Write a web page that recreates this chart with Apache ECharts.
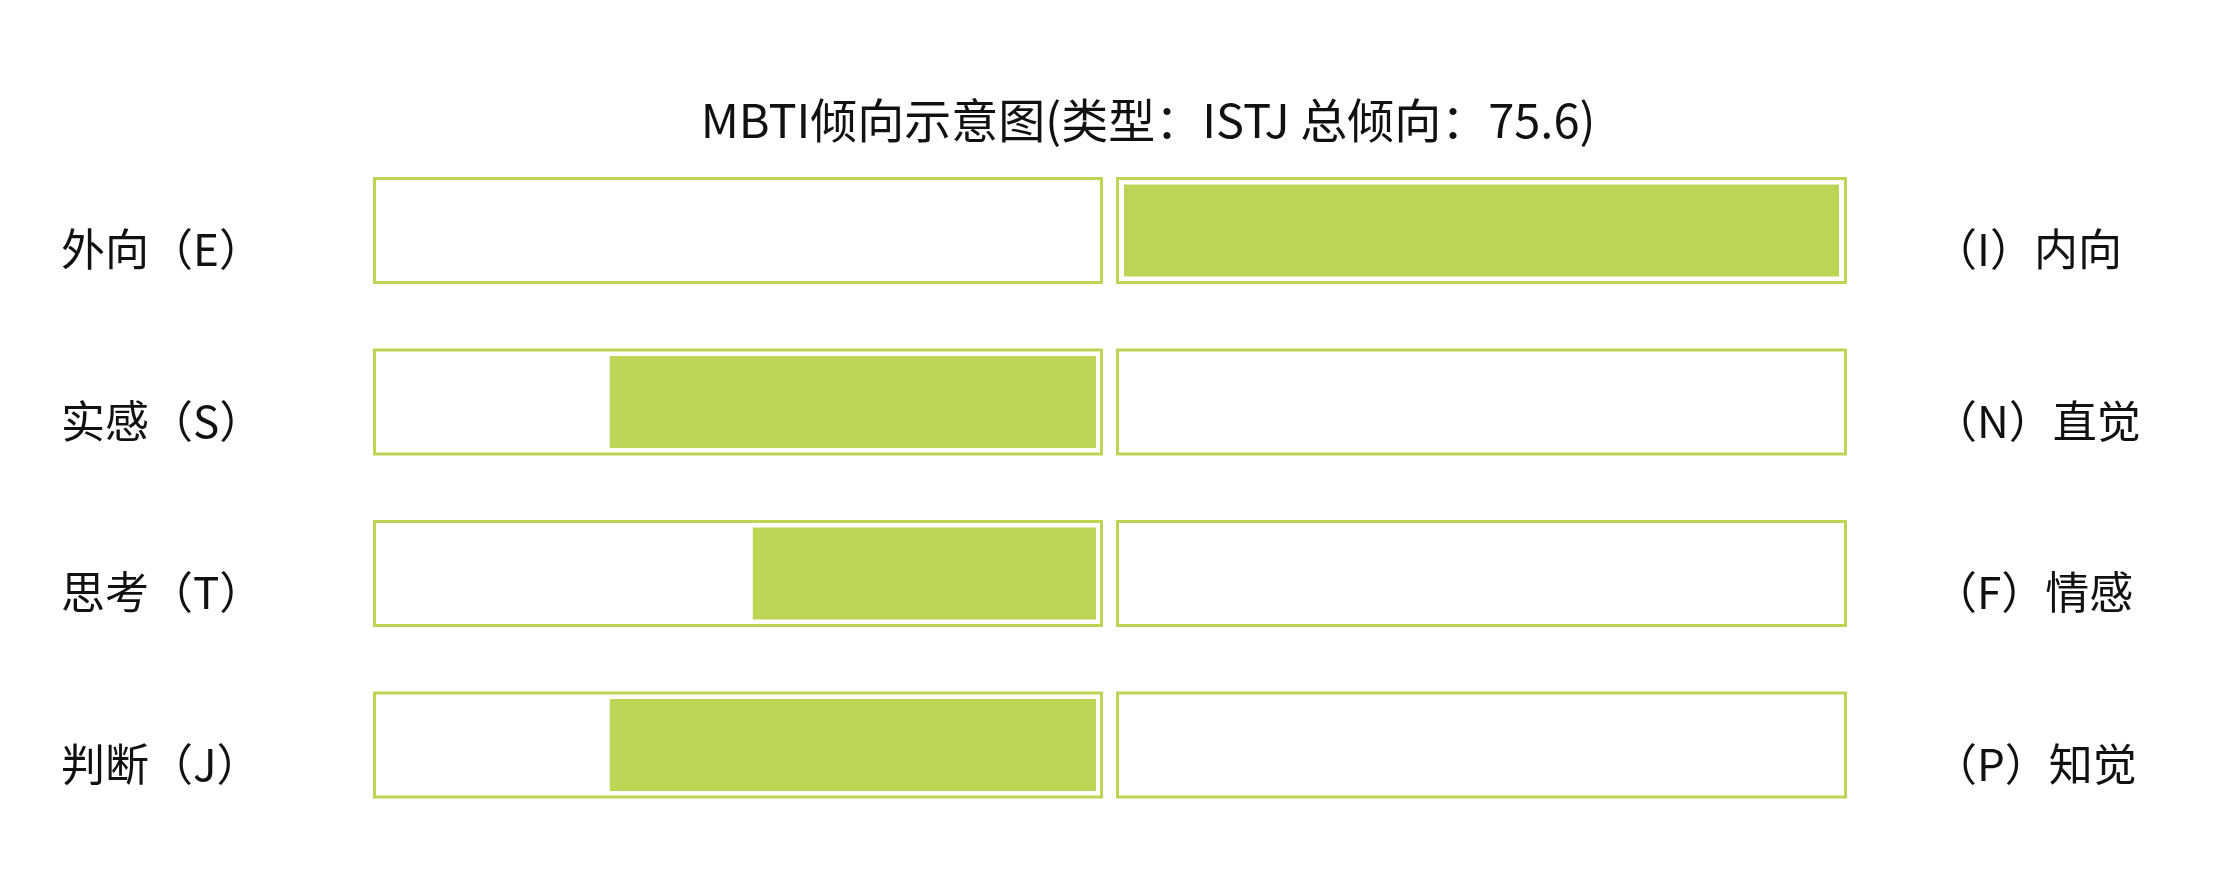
<!DOCTYPE html>
<html><head><meta charset="utf-8">
<script src="https://cdn.jsdelivr.net/npm/echarts@6/dist/echarts.min.js"></script>
<style>html,body{margin:0;padding:0;background:#fff;} #c{width:2214px;height:872px;}</style>
</head><body><div id="c"></div>
<script>
const titleText = 'MBTI倾向示意图(类型：ISTJ 总倾向：75.6)';
const leftLabels = ['外向（E）', '实感（S）', '思考（T）', '判断（J）'];
const rightLabels = ['（I）内向', '（N）直觉', '（F）情感', '（P）知觉'];
const leftValues = [0, 68, 48, 68];
const rightValues = [100, 0, 0, 0];
const frameValues = [100, 100, 100, 100];
const axisMax = 100;

const GREEN = '#bcd555';
const FONT = '"Noto Sans CJK SC", "Noto Sans", sans-serif';
const GT = 144.75, GH = 686, LABEL_SHIFT = 19;

const chart = echarts.init(document.getElementById('c'), null, {renderer: 'canvas'});
const catY = (i, data, extra) => Object.assign({
  type: 'category', gridIndex: i, data: data, inverse: true,
  axisLine: {show: false}, axisTick: {show: false}, splitLine: {show: false},
  axisLabel: {show: false}
}, extra || {});
const valX = (i, inv) => ({type: 'value', gridIndex: i, min: 0, max: axisMax, inverse: inv, show: false});
const labelStyle = {fontSize: 44, color: '#111', fontFamily: FONT};

chart.setOption({
  animation: false,
  backgroundColor: '#fff',
  title: {
    text: titleText, left: 1143, top: 92, textAlign: 'center',
    textStyle: {fontSize: 47, fontWeight: 'normal', color: '#111', fontFamily: FONT}
  },
  grid: [
    {left: 373, width: 730, top: GT, height: GH},
    {left: 1116, width: 731, top: GT, height: GH},
    {left: 381, width: 715, top: GT, height: GH},
    {left: 1124, width: 715, top: GT, height: GH},
    {left: 373, width: 730, top: GT + LABEL_SHIFT, height: GH},
    {left: 1116, width: 731, top: GT + LABEL_SHIFT, height: GH}
  ],
  xAxis: [valX(0, true), valX(1, false), valX(2, true), valX(3, false), valX(4, true), valX(5, false)],
  yAxis: [
    catY(0, leftLabels),
    catY(1, rightLabels),
    catY(2, leftLabels),
    catY(3, rightLabels),
    catY(4, leftLabels, {position: 'left', axisLabel: Object.assign({show: true, align: 'left', margin: 312}, labelStyle)}),
    catY(5, rightLabels, {position: 'right', axisLabel: Object.assign({show: true, align: 'left', margin: 86}, labelStyle)})
  ],
  series: [
    {type: 'bar', xAxisIndex: 0, yAxisIndex: 0, data: frameValues, barWidth: 107, silent: true,
      itemStyle: {color: '#fff', borderColor: GREEN, borderWidth: 3}},
    {type: 'bar', xAxisIndex: 1, yAxisIndex: 1, data: frameValues, barWidth: 107, silent: true,
      itemStyle: {color: '#fff', borderColor: GREEN, borderWidth: 3}},
    {type: 'bar', xAxisIndex: 2, yAxisIndex: 2, data: leftValues, barWidth: 92,
      itemStyle: {color: GREEN}},
    {type: 'bar', xAxisIndex: 3, yAxisIndex: 3, data: rightValues, barWidth: 92,
      itemStyle: {color: GREEN}}
  ]
});
</script></body></html>
